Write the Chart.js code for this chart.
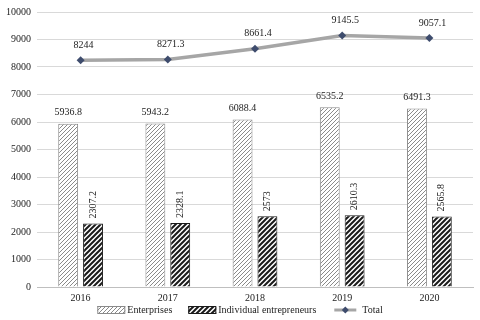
<!DOCTYPE html>
<html>
<head>
<meta charset="utf-8">
<script src="https://cdn.jsdelivr.net/npm/chart.js@4/dist/chart.umd.min.js"></script>
<style>
  html, body { margin: 0; padding: 0; background: #fff; }
  #wrap { width: 480px; height: 320px; position: relative; }
</style>
</head>
<body>
<div id="wrap"><canvas id="chartMix"></canvas></div>
<script>
const years = ["2016", "2017", "2018", "2019", "2020"];
const enterprises = [5936.8, 5943.2, 6088.4, 6535.2, 6491.3];
const individuals = [2307.2, 2328.1, 2573, 2610.3, 2565.8];
const totals = [8244, 8271.3, 8661.4, 9145.5, 9057.1];
const yTicks = [0, 1000, 2000, 3000, 4000, 5000, 6000, 7000, 8000, 9000, 10000];

const serif = "'Liberation Serif', 'DejaVu Serif', serif";

// hatch patterns for the bars
function hatch(size, color, width, bg) {
  const c = document.createElement("canvas");
  c.width = size; c.height = size;
  const g = c.getContext("2d");
  g.fillStyle = bg;
  g.fillRect(0, 0, size, size);
  g.strokeStyle = color;
  g.lineWidth = width;
  g.beginPath();
  g.moveTo(-size, size * 2); g.lineTo(size * 2, -size);
  g.moveTo(-size, size); g.lineTo(size, -size);
  g.moveTo(0, size * 2); g.lineTo(size * 2, 0);
  g.stroke();
  return g.createPattern(c, "repeat");
}

const ctx = document.getElementById("chartMix").getContext("2d");
const entPattern = hatch(4, "#8a8a8a", 1, "#ffffff");
const indPattern = hatch(5, "#1a1a1a", 2, "#ffffff");

const valueLabels = {
  id: "valueLabels",
  afterDatasetsDraw(chart) {
    const c = chart.ctx;
    c.save();
    c.font = "10px " + serif;
    c.fillStyle = "#222";
    chart.data.datasets.forEach((ds, i) => {
      const meta = chart.getDatasetMeta(i);
      meta.data.forEach((el, j) => {
        const txt = String(ds.data[j]);
        if (i === 0) {
          c.textAlign = "center";
          c.textBaseline = "middle";
          c.fillText(txt, el.x, el.y - 11);
        } else if (i === 1) {
          c.save();
          c.translate(el.x, el.y - 5);
          c.rotate(-Math.PI / 2);
          c.textAlign = "left";
          c.textBaseline = "middle";
          c.fillText(txt, 0, 0);
          c.restore();
        } else {
          c.textAlign = "center";
          c.textBaseline = "middle";
          c.fillText(txt, el.x + 3, el.y - 15);
        }
      });
    });
    c.restore();
  }
};

const bottomLegend = {
  id: "bottomLegend",
  afterDraw(chart) {
    const c = chart.ctx;
    c.save();
    c.font = "10px " + serif;
    c.textBaseline = "middle";
    c.textAlign = "left";
    const items = [
      { text: "Enterprises", kind: "box", fill: entPattern, stroke: "#8a8a8a" },
      { text: "Individual entrepreneurs", kind: "box", fill: indPattern, stroke: "#1a1a1a" },
      { text: "Total", kind: "line" }
    ];
    const sym = 28, gapSym = 2, gapItem = 16;
    let total = 0;
    items.forEach(it => { it.w = sym + gapSym + c.measureText(it.text).width; total += it.w; });
    total += gapItem * (items.length - 1);
    let x = (chart.width - total) / 2;
    const y = 310;
    items.forEach(it => {
      if (it.kind === "box") {
        c.fillStyle = it.fill;
        c.fillRect(x, y - 4, sym, 8);
        c.strokeStyle = it.stroke;
        c.lineWidth = 1;
        c.strokeRect(x + 0.5, y - 3.5, sym - 1, 7);
      } else {
        c.strokeStyle = "#a6a6a6";
        c.lineWidth = 3;
        c.beginPath(); c.moveTo(x + 2, y); c.lineTo(x + sym - 4, y); c.stroke();
        const cx = x + sym / 2 - 1;
        c.fillStyle = "#3e4c6d";
        c.beginPath();
        c.moveTo(cx, y - 3.5); c.lineTo(cx + 3.5, y); c.lineTo(cx, y + 3.5); c.lineTo(cx - 3.5, y);
        c.closePath(); c.fill();
      }
      c.fillStyle = "#222";
      c.fillText(it.text, x + sym + gapSym, y + 0.5);
      x += it.w + gapItem;
    });
    c.restore();
  }
};

const chartMix = new Chart(ctx, {
  type: "bar",
  data: {
    labels: years,
    datasets: [
      {
        label: "Enterprises",
        data: enterprises,
        backgroundColor: entPattern,
        borderColor: "#8a8a8a",
        borderWidth: 1,
        categoryPercentage: 0.57,
        barPercentage: 0.8,
        order: 2
      },
      {
        label: "Individual entrepreneurs",
        data: individuals,
        backgroundColor: indPattern,
        borderColor: "#1a1a1a",
        borderWidth: 1,
        categoryPercentage: 0.57,
        barPercentage: 0.8,
        order: 2
      },
      {
        type: "line",
        label: "Total",
        data: totals,
        borderColor: "#a6a6a6",
        backgroundColor: "#3e4c6d",
        borderWidth: 3.5,
        pointStyle: "rectRot",
        pointRadius: 4,
        pointBorderWidth: 0,
        pointBackgroundColor: "#3e4c6d",
        tension: 0,
        order: 1
      }
    ]
  },
  options: {
    responsive: true,
    maintainAspectRatio: false,
    animation: false,
    layout: { padding: { left: 0, right: 7, top: 2, bottom: 11 } },
    scales: {
      x: {
        offset: true,
        grid: { display: false, drawTicks: false },
        border: { display: true, color: "#bfbfbf", width: 1 },
        ticks: { color: "#222", font: { family: serif, size: 10 }, padding: 5 }
      },
      y: {
        min: 0,
        max: 10000,
        afterBuildTicks(axis) { axis.ticks = yTicks.map(v => ({ value: v })); },
        grid: { color: "#d9d9d9", drawTicks: false },
        border: { display: false },
        ticks: { color: "#222", font: { family: serif, size: 10 }, padding: 6, callback: v => String(v) }
      }
    },
    plugins: {
      legend: { display: false },
      tooltip: { enabled: false }
    }
  },
  plugins: [valueLabels, bottomLegend]
});
</script>
</body>
</html>
